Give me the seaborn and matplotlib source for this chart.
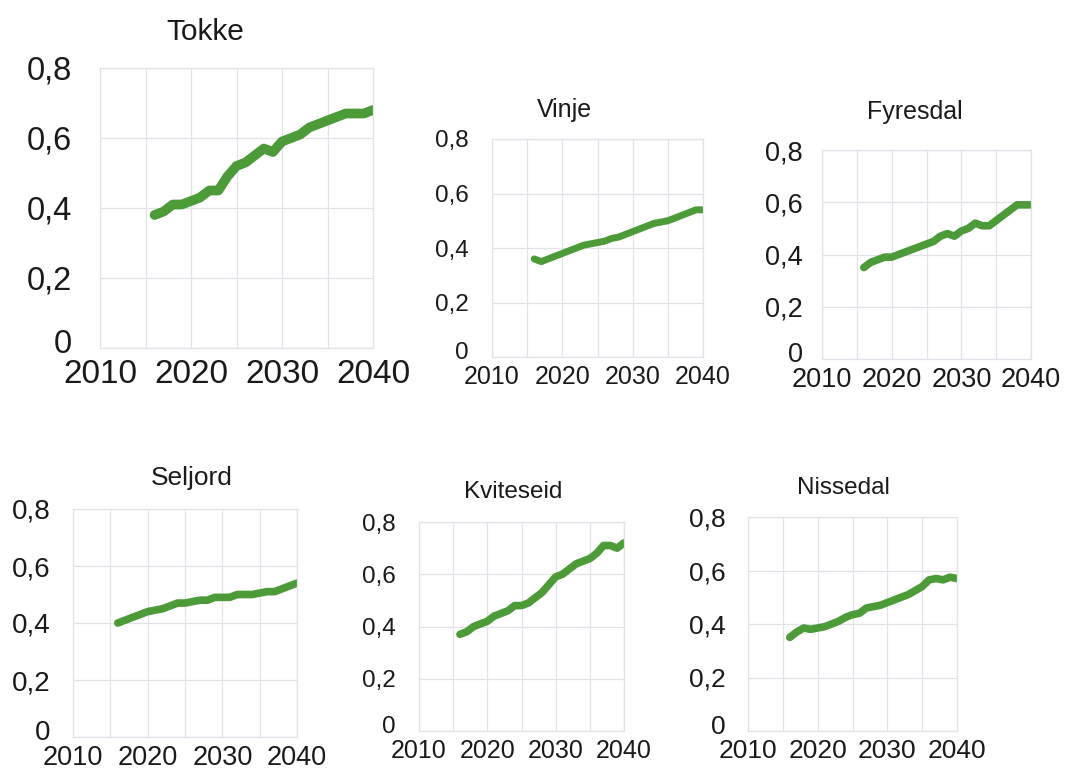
#!/usr/bin/env python3
import matplotlib
matplotlib.use("Agg")
import matplotlib.pyplot as plt
import pandas as pd
import seaborn as sns
from matplotlib.ticker import FixedLocator, FuncFormatter
from matplotlib.transforms import ScaledTranslation

GREEN = "#4c9a38"
GRID = "#e2e2ea"
TEXT = "#1a1a1a"

YEARS = list(range(2016, 2041))

TOKKE = [0.38, 0.39, 0.41, 0.41, 0.42, 0.43, 0.45, 0.45, 0.49, 0.52, 0.53, 0.55, 0.57,
         0.56, 0.59, 0.60, 0.61, 0.63, 0.64, 0.65, 0.66, 0.67, 0.67, 0.67, 0.68]
VINJE = [0.36, 0.35, 0.36, 0.37, 0.38, 0.39, 0.40, 0.41, 0.415, 0.42, 0.425, 0.435, 0.44,
         0.45, 0.46, 0.47, 0.48, 0.49, 0.495, 0.50, 0.51, 0.52, 0.53, 0.54, 0.54]
FYRESDAL = [0.35, 0.37, 0.38, 0.39, 0.39, 0.40, 0.41, 0.42, 0.43, 0.44, 0.45, 0.47, 0.48,
            0.47, 0.49, 0.50, 0.52, 0.51, 0.51, 0.53, 0.55, 0.57, 0.59, 0.59, 0.59]
SELJORD = [0.40, 0.41, 0.42, 0.43, 0.44, 0.445, 0.45, 0.46, 0.47, 0.47, 0.475, 0.48, 0.48,
           0.49, 0.49, 0.49, 0.50, 0.50, 0.50, 0.505, 0.51, 0.51, 0.52, 0.53, 0.54]
KVITESEID = [0.37, 0.38, 0.40, 0.41, 0.42, 0.44, 0.45, 0.46, 0.48, 0.48, 0.49, 0.51, 0.53,
             0.56, 0.59, 0.60, 0.62, 0.64, 0.65, 0.66, 0.68, 0.71, 0.71, 0.70, 0.72]
NISSEDAL = [0.35, 0.37, 0.385, 0.38, 0.385, 0.39, 0.40, 0.41, 0.425, 0.435, 0.44, 0.46, 0.465,
            0.47, 0.48, 0.49, 0.50, 0.51, 0.525, 0.54, 0.565, 0.57, 0.565, 0.575, 0.57]

X_TICKS = [2010, 2020, 2030, 2040]
X_MINOR = [2015, 2025, 2035]
Y_TICKS = [0, 0.2, 0.4, 0.6, 0.8]

W, H = 1082, 770

# name, values, axes box in px (x0, y0, x1, y1), title centre px, title size,
# y tick size, x tick size, y pad, x pad, line width
PANELS = [
    ("Tokke", TOKKE, (100, 68, 373, 348), (205, 32), 21.5, 23.5, 24, 20, 8, 7),
    ("Vinje", VINJE, (492, 139, 703, 357), (564, 110), 18, 17.5, 18, 17, 6, 5),
    ("Fyresdal", FYRESDAL, (822, 150, 1031, 359), (915, 112), 18, 19.5, 19.5, 14, 6, 5.5),
    ("Seljord", SELJORD, (73, 509, 297, 737), (192, 478), 19, 20, 19.5, 16, 6, 5.5),
    ("Kviteseid", KVITESEID, (419, 522, 624, 731), (513, 492), 17.5, 17.5, 18, 17, 6, 5.5),
    ("Nissedal", NISSEDAL, (748, 517, 957, 731), (843, 488), 17.5, 19, 19, 16, 6, 5.5),
]


def ytick_fmt(v, _):
    if abs(v) < 1e-9:
        return "0"
    return f"{v:.1f}".replace(".", ",")


def main() -> None:
    sns.set_style("white")
    plt.rcParams["font.family"] = ["Liberation Sans", "DejaVu Sans"]
    fig = plt.figure(figsize=(W / 100, H / 100), dpi=100)
    fig.patch.set_facecolor("white")

    axes = []
    for name, vals, (x0, y0, x1, y1), (tx, ty), tsize, ysize, xsize, ypad, xpad, lw in PANELS:
        ax = fig.add_axes([x0 / W, 1 - y1 / H, (x1 - x0) / W, (y1 - y0) / H])
        df = pd.DataFrame({"year": YEARS, "value": vals})
        sns.lineplot(data=df, x="year", y="value", ax=ax, color=GREEN,
                     linewidth=lw, solid_capstyle="round", solid_joinstyle="round")
        ax.set_xlim(2010, 2040)
        ax.set_ylim(0, 0.8)
        ax.xaxis.set_major_locator(FixedLocator(X_TICKS))
        ax.xaxis.set_minor_locator(FixedLocator(X_MINOR))
        ax.yaxis.set_major_locator(FixedLocator(Y_TICKS))
        ax.yaxis.set_major_formatter(FuncFormatter(ytick_fmt))
        ax.grid(True, which="both", color=GRID, linewidth=0.9)
        ax.set_axisbelow(True)
        for sp in ax.spines.values():
            sp.set_color(GRID)
            sp.set_linewidth(0.9)
        ax.tick_params(axis="both", which="both", length=0)
        ax.tick_params(axis="y", labelsize=ysize, pad=ypad, labelcolor=TEXT)
        ax.tick_params(axis="x", labelsize=xsize, pad=xpad, labelcolor=TEXT)
        ax.set_xlabel("")
        ax.set_ylabel("")
        fig.text(tx / W, 1 - ty / H, name, ha="center", va="center",
                 fontsize=tsize, color=TEXT)
        axes.append(ax)

    # lift the "0" label a little so it sits above the first year label
    fig.canvas.draw()
    lift = ScaledTranslation(0, 5 / 72, fig.dpi_scale_trans)
    for ax in axes:
        zero = ax.yaxis.get_major_ticks()[0].label1
        zero.set_transform(zero.get_transform() + lift)

    fig.savefig("out.png", dpi=100, facecolor="white")
    plt.close(fig)


if __name__ == "__main__":
    main()
